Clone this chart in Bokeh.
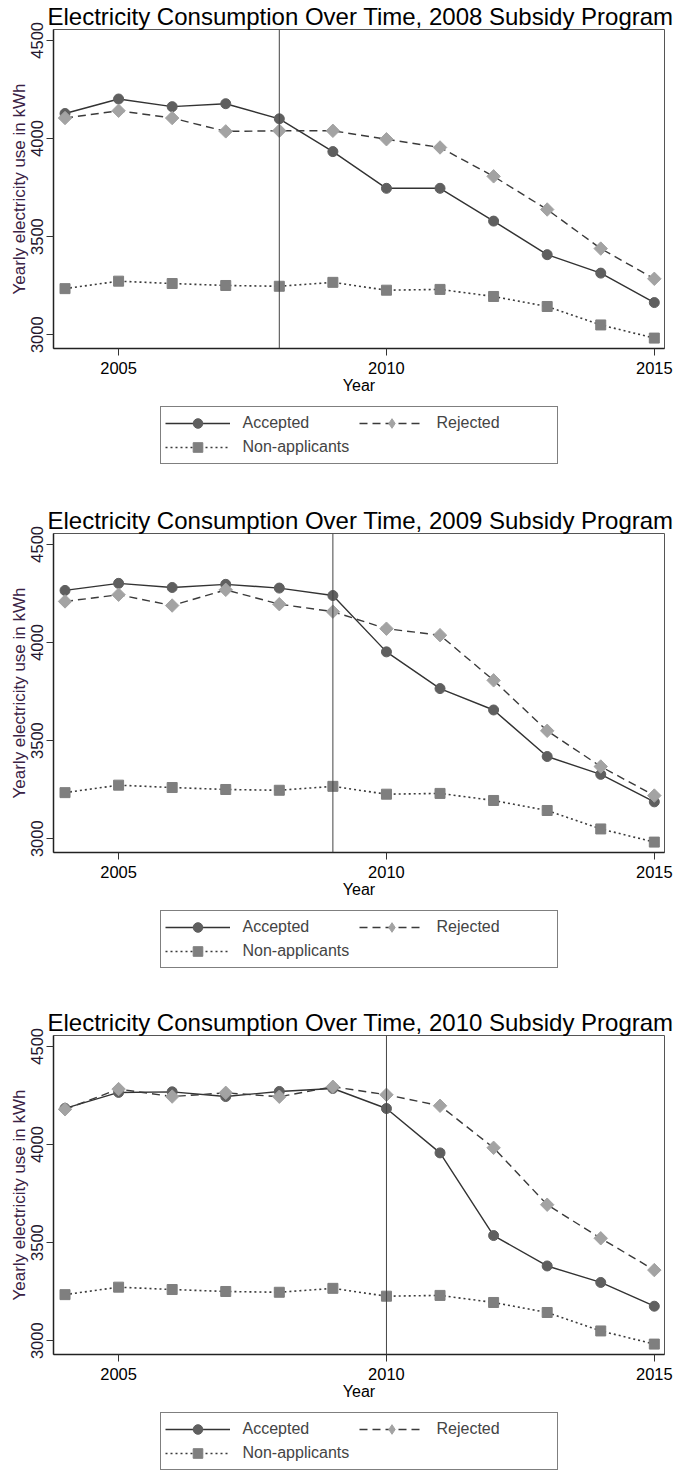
from bokeh.plotting import figure
from bokeh.models import Span, Legend, LegendItem, FixedTicker, Range1d
from bokeh.layouts import column
from bokeh.embed import file_html
from bokeh.resources import INLINE

years = list(range(2004, 2016))
program_years = [2008, 2009, 2010]
accepted_2008 = [4127, 4201, 4162, 4177, 4100, 3933, 3746, 3746, 3579, 3408, 3314, 3164]
rejected_2008 = [4104, 4141, 4104, 4036, 4039, 4039, 3996, 3954, 3807, 3638, 3439, 3285]
accepted_2009 = [4265, 4301, 4280, 4296, 4277, 4239, 3952, 3765, 3656, 3419, 3328, 3188]
rejected_2009 = [4209, 4243, 4188, 4268, 4195, 4157, 4070, 4037, 3807, 3550, 3368, 3220]
accepted_2010 = [4184, 4265, 4268, 4244, 4270, 4285, 4183, 3957, 3536, 3381, 3297, 3176]
rejected_2010 = [4179, 4282, 4244, 4263, 4243, 4294, 4253, 4197, 3983, 3693, 3522, 3360]
non_applicants = [3235, 3273, 3261, 3251, 3247, 3267, 3227, 3231, 3195, 3144, 3050, 2983]
x_ticks = [2005, 2010, 2015]
y_ticks = [3000, 3500, 4000, 4500]
series_labels = ["Accepted", "Rejected", "Non-applicants"]

FONT = "Liberation Sans"

STYLE_ACC_LINE = dict(line_color="#333333", line_width=1.4)
STYLE_ACC_MARK = dict(marker="circle", size=10, fill_color="#5f5f5f", line_color="#5f5f5f")
STYLE_NON_LINE = dict(line_color="#3a3a3a", line_width=1.6, line_dash="2 3")
STYLE_NON_MARK = dict(marker="square", size=10, fill_color="#7f7f7f", line_color="#7f7f7f")
STYLE_REJ_LINE = dict(line_color="#3a3a3a", line_width=1.4, line_dash="8 5")
STYLE_REJ_MARK = dict(marker="square", size=9.5, angle=0.7854,
                      fill_color="#a3a3a3", line_color="#a3a3a3")
STYLE_REJ_MARK_LEG = dict(marker="diamond", size=14,
                          fill_color="#a3a3a3", line_color="#a3a3a3")


def draw_series(p, acc, rej, rej_mark):
    la = p.line(years, acc, **STYLE_ACC_LINE)
    sa = p.scatter(years, acc, **STYLE_ACC_MARK)
    ln = p.line(years, non_applicants, **STYLE_NON_LINE)
    sn = p.scatter(years, non_applicants, **STYLE_NON_MARK)
    lr = p.line(years, rej, **STYLE_REJ_LINE)
    sr = p.scatter(years, rej, **rej_mark)
    return (la, sa), (lr, sr), (ln, sn)


def make_panel(prog_year, acc, rej):
    p = figure(width=675, height=405,
               x_range=Range1d(2003.785, 2015.19), y_range=Range1d(2930, 4555),
               output_backend="svg", toolbar_location=None,
               min_border_left=53, min_border_right=11, min_border_top=0,
               min_border_bottom=57)
    p.title.text = "Electricity Consumption Over Time, %d Subsidy Program" % prog_year
    p.title.text_font = FONT
    p.title.text_font_size = "24px"
    p.title.text_font_style = "normal"
    p.title.text_color = "black"
    p.title.align = "left"
    p.title.offset = -6
    p.title.standoff = 0
    p.title.text_line_height = 1.0

    p.xgrid.visible = False
    p.ygrid.visible = False
    p.outline_line_color = "#555555"
    p.outline_line_width = 1
    p.background_fill_color = "white"
    p.border_fill_color = "white"

    for ax in (p.xaxis[0], p.yaxis[0]):
        ax.axis_line_color = "#222222"
        ax.axis_line_width = 1.5
        ax.major_tick_line_color = "#333333"
        ax.major_tick_out = 7
        ax.major_tick_in = 0
        ax.minor_tick_line_color = None
        ax.major_label_text_font = FONT
        ax.major_label_text_font_size = "16.5px"
        ax.axis_label_text_font = FONT
        ax.axis_label_text_font_style = "normal"
        ax.axis_label_standoff = 0

    p.xaxis.ticker = FixedTicker(ticks=x_ticks)
    p.yaxis.ticker = FixedTicker(ticks=y_ticks)
    p.xaxis.axis_label = "Year"
    p.xaxis.axis_label_text_font_size = "16px"
    p.xaxis.major_label_standoff = 6
    p.xaxis.major_label_text_color = "black"
    p.xaxis.axis_label_text_color = "black"
    p.yaxis.axis_label = "Yearly electricity use in kWh"
    p.yaxis.axis_label_text_font_size = "17px"
    p.yaxis.axis_label_text_color = "#3a2245"
    p.yaxis.major_label_text_color = "#24182e"
    p.yaxis.major_label_orientation = "vertical"
    p.yaxis.major_label_standoff = 3

    p.add_layout(Span(location=prog_year, dimension="height",
                      line_color="#444444", line_width=1))
    draw_series(p, acc, rej, STYLE_REJ_MARK)
    return p


def make_legend(acc, rej, height):
    lf = figure(width=675, height=height, x_range=Range1d(0, 1), y_range=Range1d(0, 1),
                output_backend="svg", toolbar_location=None,
                x_axis_location=None, y_axis_location=None,
                min_border_left=53, min_border_right=11, min_border_top=0,
                min_border_bottom=0)
    lf.xgrid.visible = False
    lf.ygrid.visible = False
    lf.outline_line_color = None
    (la, sa), (lr, sr), (ln, sn) = draw_series(lf, acc, rej, STYLE_REJ_MARK_LEG)
    legend = Legend(items=[
        LegendItem(label=series_labels[0], renderers=[la, sa]),
        LegendItem(label=series_labels[1], renderers=[lr, sr]),
        LegendItem(label=series_labels[2], renderers=[ln, sn]),
    ], ncols=2, orientation="horizontal", location="top_center")
    legend.label_text_font = FONT
    legend.label_text_font_size = "16px"
    legend.glyph_width = 65
    legend.glyph_height = 24
    legend.label_standoff = 13
    legend.label_width = 116
    legend.padding = 4
    legend.spacing = 0
    legend.margin = 1
    legend.border_line_color = "black"
    legend.border_line_width = 1
    legend.background_fill_color = "white"
    legend.background_fill_alpha = 1
    lf.add_layout(legend, "center")
    return lf


p1 = make_panel(program_years[0], accepted_2008, rejected_2008)
l1 = make_legend(accepted_2008, rejected_2008, 99)
p2 = make_panel(program_years[1], accepted_2009, rejected_2009)
l2 = make_legend(accepted_2009, rejected_2009, 97)
p3 = make_panel(program_years[2], accepted_2010, rejected_2010)
l3 = make_legend(accepted_2010, rejected_2010, 60)

layout = column(p1, l1, p2, l2, p3, l3, spacing=0)
open("out.html", "w").write(file_html(layout, INLINE))
